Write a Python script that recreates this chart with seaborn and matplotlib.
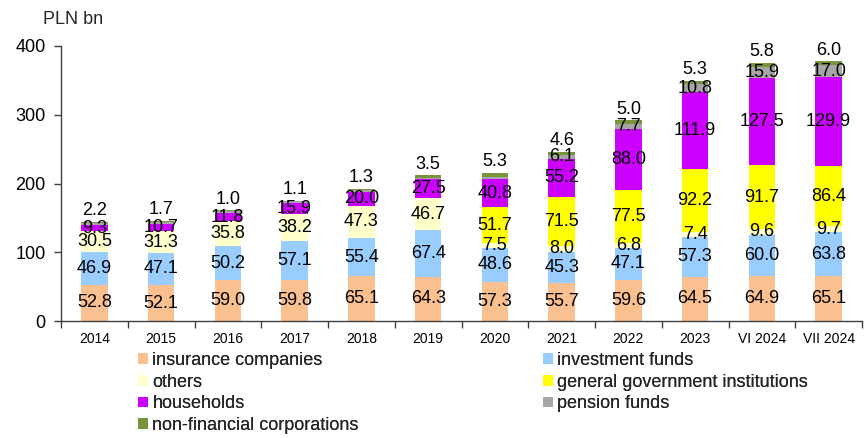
import numpy as np
import seaborn as sns
import matplotlib.pyplot as plt
from matplotlib.patches import Patch

categories = ["2014", "2015", "2016", "2017", "2018", "2019", "2020",
              "2021", "2022", "2023", "VI 2024", "VII 2024"]
insurance = [52.8, 52.1, 59.0, 59.8, 65.1, 64.3, 57.3, 55.7, 59.6, 64.5, 64.9, 65.1]
investment = [46.9, 47.1, 50.2, 57.1, 55.4, 67.4, 48.6, 45.3, 47.1, 57.3, 60.0, 63.8]
others = [30.5, 31.3, 35.8, 38.2, 47.3, 46.7, 7.5, 8.0, 6.8, 7.4, 9.6, 9.7]
government = [0, 0, 0, 0, 0, 0, 51.7, 71.5, 77.5, 92.2, 91.7, 86.4]
households = [9.3, 10.7, 11.8, 15.9, 20.0, 27.5, 40.8, 55.2, 88.0, 111.9, 127.5, 129.9]
pension = [3.0, 3.0, 3.0, 3.0, 3.0, 2.5, 4.0, 6.1, 7.7, 10.8, 15.9, 17.0]
pension_labelled = [False] * 7 + [True] * 5
nfc = [2.2, 1.7, 1.0, 1.1, 1.3, 3.5, 5.3, 4.6, 5.0, 5.3, 5.8, 6.0]

series_names = ["insurance companies", "investment funds", "others",
                "general government institutions", "households",
                "pension funds", "non-financial corporations"]
colors = ["#FAC090", "#99CCFF", "#FFFFCC", "#FFFF00", "#CC00FF", "#A6A6A6", "#77933C"]

sns.set_theme(style="white")
plt.rcParams['font.family'] = ['Liberation Sans', 'DejaVu Sans']

fig = plt.figure(figsize=(8.67, 4.38), dpi=100)
ax = fig.add_axes([61 / 867, 1 - 321 / 438, 801 / 867, 275 / 438])

data = np.array([insurance, investment, others, government, households, pension, nfc])
cum = data.cumsum(axis=0)
for i in range(len(data) - 1, -1, -1):
    sns.barplot(x=categories, y=cum[i], order=categories, color=colors[i],
                saturation=1, width=0.4, edgecolor="none", linewidth=0, ax=ax)

# value labels
n_series = len(data)
for i in range(n_series):
    for j, cat in enumerate(categories):
        v = data[i, j]
        if v <= 0:
            continue
        if i == 5 and not pension_labelled[j]:
            continue
        if i == n_series - 1:
            ax.annotate(f"{v:.1f}", xy=(j, cum[i, j]), xytext=(0, 8),
                        textcoords="offset points", ha="center", va="center",
                        fontsize=13, color="black")
        else:
            ax.text(j, cum[i, j] - v / 2, f"{v:.1f}", ha="center", va="center",
                    fontsize=13, color="black")

ax.set_ylim(0, 400)
ax.set_xlim(-0.5, len(categories) - 0.5)
ax.set_yticks([0, 100, 200, 300, 400])
ax.tick_params(axis="y", left=True, length=5, width=1, color="#404040",
               labelsize=13, pad=6, labelcolor="black")
ax.set_xticks(range(len(categories)))
ax.set_xticklabels(categories, fontsize=10, color="black")
ax.tick_params(axis="x", bottom=True, length=0, pad=8)
ax.set_xticks(np.arange(-0.5, len(categories), 1.0), minor=True)
ax.tick_params(axis="x", which="minor", bottom=True, length=5, width=1, color="#404040")
ax.grid(False)
for s in ["top", "right"]:
    ax.spines[s].set_visible(False)
for s in ["left", "bottom"]:
    ax.spines[s].set_color("#404040")
    ax.spines[s].set_linewidth(1)
ax.set_xlabel("")
ax.set_ylabel("")

fig.text(43 / 867, 1 - 20 / 438, "PLN bn", fontsize=13, ha="left", va="center")

handles = [Patch(facecolor=c, edgecolor="none") for c in colors]
col1 = [0, 2, 4, 6]
col2 = [1, 3, 5]
for cols, x0 in [(col1, 138 / 867), (col2, 543 / 867)]:
    leg = fig.legend([handles[k] for k in cols], [series_names[k] for k in cols],
                     loc="upper left", bbox_to_anchor=(x0, 1 - 352 / 438),
                     frameon=False, handlelength=0.55, handleheight=0.55,
                     handletextpad=0.25, labelspacing=0.26, borderpad=0,
                     borderaxespad=0, prop={"size": 13})
    fig.add_artist(leg)

fig.savefig("out.png", dpi=100)
